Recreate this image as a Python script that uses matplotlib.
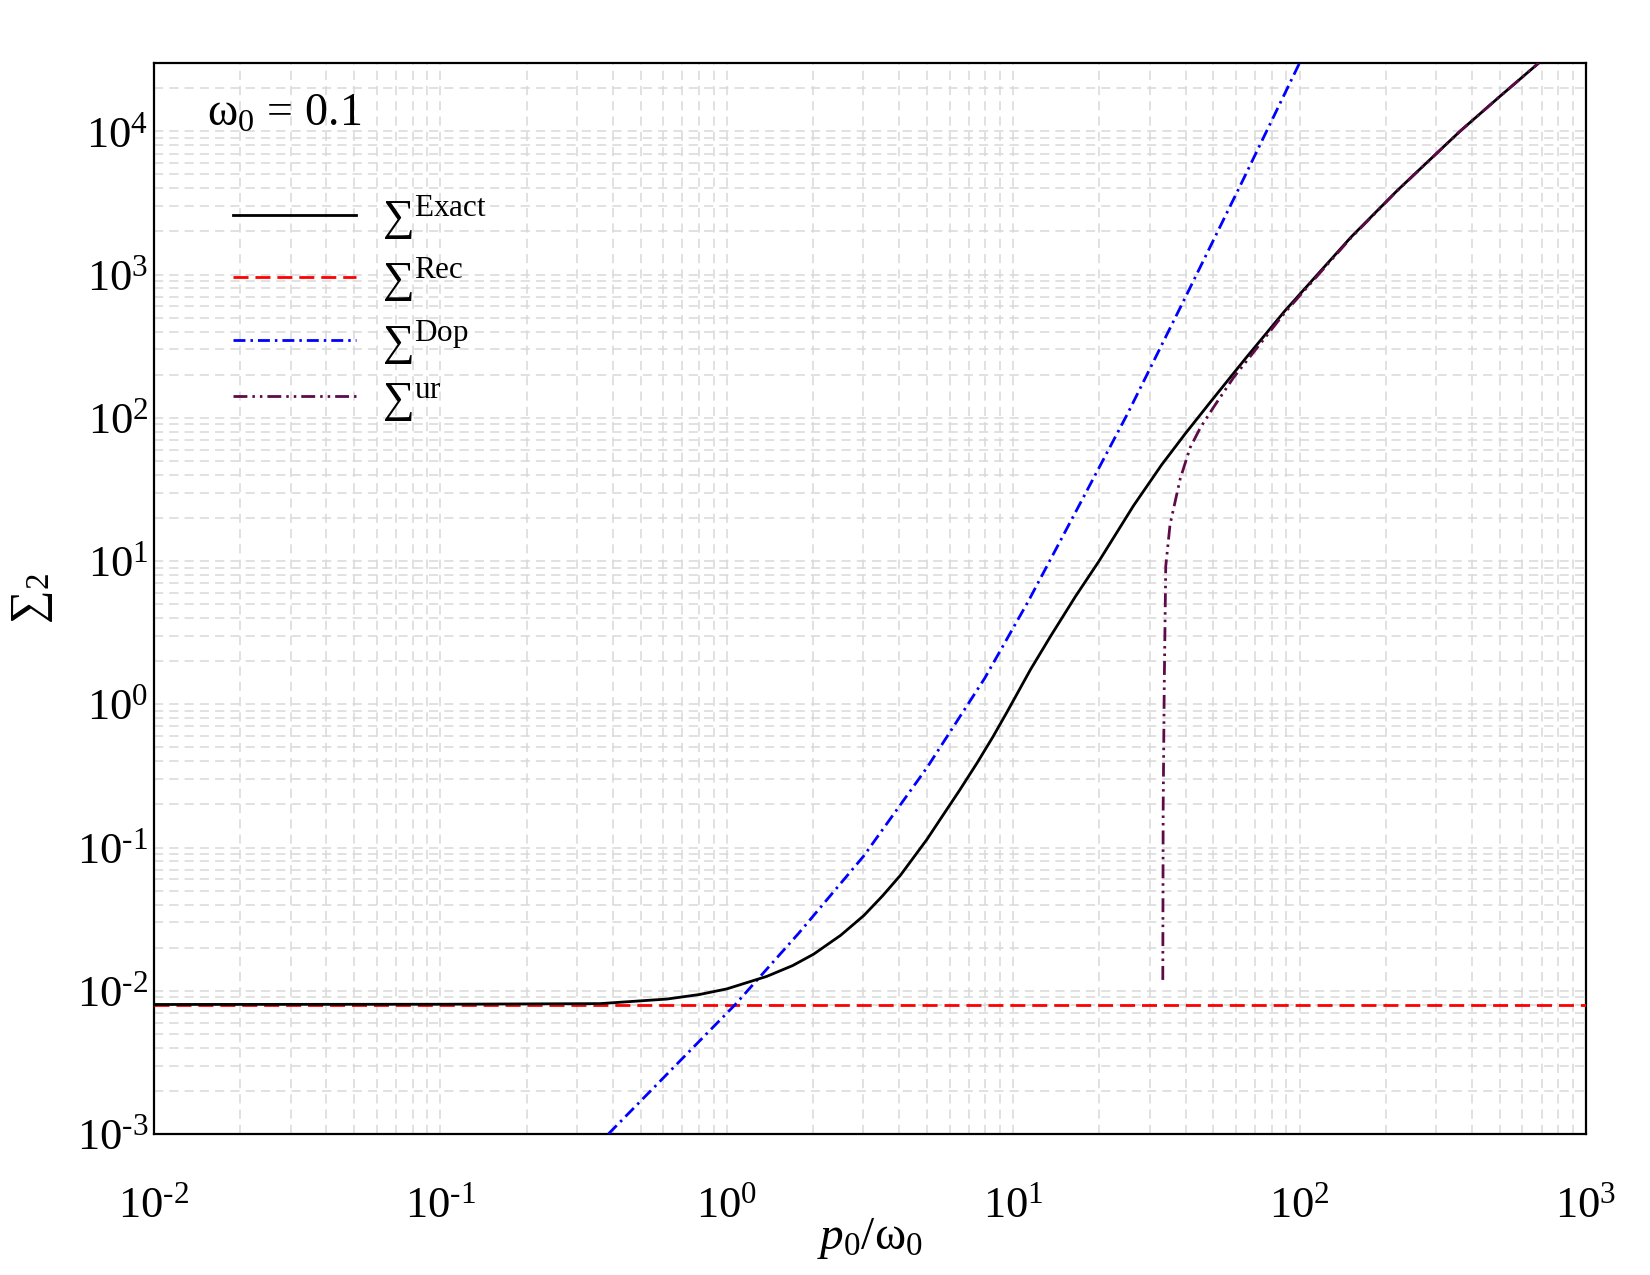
import numpy as np
import matplotlib
matplotlib.use("Agg")
import matplotlib.pyplot as plt
from matplotlib.ticker import LogLocator, FixedLocator, NullFormatter

plt.rcParams['font.family'] = ['Liberation Serif', 'DejaVu Serif']
plt.rcParams['mathtext.fontset'] = 'custom'
plt.rcParams['mathtext.rm'] = 'Liberation Serif'
plt.rcParams['mathtext.it'] = 'Liberation Serif:italic'
plt.rcParams['mathtext.bf'] = 'Liberation Serif:bold'

# values (p0/omega0, Sigma_2)
x_exact = [0.01, 0.1, 0.361, 0.618, 0.8, 1.0, 1.38, 1.7, 2.01, 2.5, 3.01, 3.5,
           4.04, 5.0, 5.56, 6.5, 7.48, 8.5, 9.51, 11.5, 13.5, 16.5, 19.9, 23,
           26.3, 33, 40, 49, 65, 89, 151, 219, 363, 500, 684]
y_exact = [0.00802, 0.00805, 0.00813, 0.00875, 0.0094, 0.0103, 0.0126, 0.0150,
           0.0180, 0.0244, 0.0335, 0.046, 0.064, 0.114, 0.157, 0.251, 0.389,
           0.593, 0.88, 1.75, 2.98, 5.66, 9.93, 15.8, 24.3, 47, 78, 130, 262,
           560, 1820, 3850, 1.0e4, 1.75e4, 3.0e4]

x_rec = [0.01, 1000]
y_rec = [0.008, 0.008]

x_dop = [0.386, 1.07, 1.78, 3.0, 5.01, 7.94, 11.3, 16.7, 25.1, 39.9, 63.1, 100]
y_dop = [0.00100, 0.0080, 0.0251, 0.0867, 0.363, 1.51, 5.25, 22.9, 107, 692,
         4470, 3.0e4]

x_ur = [33.3, 33.4, 33.7, 34.1, 35.3, 38.3, 41.5, 45, 50, 58.7, 89, 151, 219,
        363, 500, 684]
y_ur = [0.0119, 0.19, 1.42, 9.2, 18.0, 37.5, 62, 85, 118, 190, 545, 1800, 3840,
        1.0e4, 1.75e4, 3.0e4]

xticks = [1e-2, 1e-1, 1e0, 1e1, 1e2, 1e3]
xlabels = ['$\\mathregular{10^{\u2010' + '2}}$', '$\\mathregular{10^{\u2010' + '1}}$',
           '$\\mathregular{10^{0}}$', '$\\mathregular{10^{1}}$',
           '$\\mathregular{10^{2}}$', '$\\mathregular{10^{3}}$']
yticks = [1e-3, 1e-2, 1e-1, 1e0, 1e1, 1e2, 1e3, 1e4]
ylabels = ['$\\mathregular{10^{\u2010' + '3}}$', '$\\mathregular{10^{\u2010' + '2}}$',
           '$\\mathregular{10^{\u2010' + '1}}$', '$\\mathregular{10^{0}}$',
           '$\\mathregular{10^{1}}$', '$\\mathregular{10^{2}}$',
           '$\\mathregular{10^{3}}$', '$\\mathregular{10^{4}}$']

fig = plt.figure(figsize=(16.5, 12.75), dpi=100)
ax = fig.add_axes([0.0933, 0.1106, 0.8679, 0.8400])

lw = 2.0
ax.plot(x_exact, y_exact, color='black', lw=lw, label='$\\mathregular{\u2211^{Exact}}$', zorder=5)
ax.plot(x_rec, y_rec, color='red', lw=lw, dashes=(5.4, 2.5), label='$\\mathregular{\u2211^{Rec}}$', zorder=4)
ax.plot(x_dop, y_dop, color='blue', lw=lw, dashes=(4.3, 1.8, 0.9, 1.8),
        label='$\\mathregular{\u2211^{Dop}}$', zorder=4)
ax.plot(x_ur, y_ur, color='#5e0a48', lw=lw, dashes=(5.0, 1.8, 0.9, 1.8, 0.9, 1.8),
        label='$\\mathregular{\u2211^{ur}}$', zorder=6)

ax.set_xscale('log')
ax.set_yscale('log')
ax.set_xlim(1e-2, 1e3)
ax.set_ylim(1e-3, 3e4)

ax.xaxis.set_major_locator(FixedLocator(xticks))
ax.set_xticklabels(xlabels)
ax.yaxis.set_major_locator(FixedLocator(yticks))
ax.set_yticklabels(ylabels)
for a in (ax.xaxis, ax.yaxis):
    a.set_minor_locator(LogLocator(base=10, subs=np.arange(2, 10), numticks=100))
    a.set_minor_formatter(NullFormatter())

ax.tick_params(which='both', length=0)
ax.tick_params(axis='x', labelsize=32, pad=38)
ax.tick_params(axis='y', labelsize=32, pad=4)

ax.grid(True, which='both', color='#d8d8d8', lw=1.1, linestyle=(0, (6, 4)), zorder=0)
ax.set_axisbelow(True)
for s in ax.spines.values():
    s.set_linewidth(1.6)

ax.set_xlabel('$p_\\mathregular{0}\\mathregular{/ω_0}$', fontsize=34, labelpad=-8)
ax.set_ylabel('$\\mathregular{\u2211_2}$', fontsize=34, labelpad=16)

ax.text(0.037, 0.972, '$\\mathregular{ω_0\\,=\\,0.1}$', transform=ax.transAxes,
        fontsize=33, va='top', ha='left')

leg = ax.legend(loc='upper left', bbox_to_anchor=(0.043, 0.895), frameon=False,
                fontsize=32, handlelength=2.75, handletextpad=0.6, labelspacing=0.31,
                borderaxespad=0)

fig.savefig('out.png', dpi=100)
